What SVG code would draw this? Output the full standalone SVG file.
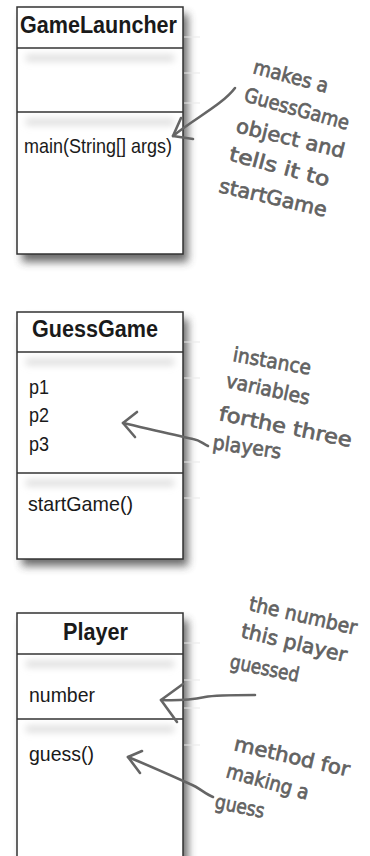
<svg xmlns="http://www.w3.org/2000/svg" width="370" height="856" viewBox="0 0 370 856">
<defs>
<style>
.box{fill:#fff;stroke:#333;stroke-width:1.5}
.div{stroke:#333;stroke-width:1.5}
.shadow{fill:#3a3a3a;opacity:.75;filter:url(#blur)}
.band{fill:#dadada;filter:url(#soft)}
.rule{stroke:#e9e9e9;stroke-width:1}
.title{font-family:"Liberation Sans",Arial,sans-serif;font-weight:bold;font-size:23px;fill:#1a1a1a}
.item{font-family:"Liberation Sans",Arial,sans-serif;font-size:21px;fill:#1a1a1a}
.hand{font-family:"DejaVu Sans","Noto Sans",sans-serif;font-size:20px;fill:#626262;stroke:#626262;stroke-width:0.7}
.arrow{fill:none;stroke:#656565;stroke-width:2.6;stroke-linecap:round;stroke-linejoin:round}
</style>
<filter id="blur" x="-20%" y="-20%" width="140%" height="140%"><feGaussianBlur stdDeviation="4"/></filter>
<filter id="soft" x="-20%" y="-300%" width="140%" height="700%"><feGaussianBlur stdDeviation="3.5"/></filter>
</defs>
<rect width="370" height="856" fill="#fff"/>

<g id="GameLauncher">
<rect class="shadow" x="22" y="14" width="166" height="248"/>
<line class="rule" x1="184" y1="37" x2="200" y2="37"/>
<line class="rule" x1="184" y1="73" x2="200" y2="73"/>
<line class="rule" x1="184" y1="103" x2="200" y2="103"/>
<rect class="box" x="17" y="7" width="166" height="247"/>
<rect class="band" x="26" y="55" width="148" height="6"/>
<rect class="band" x="26" y="119" width="148" height="6"/>
<line class="div" x1="17" y1="48" x2="183" y2="48"/>
<line class="div" x1="17" y1="112" x2="183" y2="112"/>
<text class="title" x="20" y="33" textLength="157" lengthAdjust="spacingAndGlyphs">GameLauncher</text>
<text class="item" x="24" y="153" textLength="148" lengthAdjust="spacingAndGlyphs">main(String[] args)</text>
</g>

<g id="GuessGame">
<rect class="shadow" x="22" y="319" width="166" height="247"/>
<line class="rule" x1="184" y1="342" x2="200" y2="342"/>
<line class="rule" x1="184" y1="378" x2="200" y2="378"/>
<line class="rule" x1="184" y1="462" x2="200" y2="462"/>
<line class="rule" x1="184" y1="498" x2="200" y2="498"/>
<rect class="box" x="17" y="312" width="166" height="247"/>
<rect class="band" x="26" y="359" width="148" height="6"/>
<rect class="band" x="26" y="480" width="148" height="6"/>
<line class="div" x1="17" y1="352" x2="183" y2="352"/>
<line class="div" x1="17" y1="473" x2="183" y2="473"/>
<text class="title" x="32" y="337" textLength="126" lengthAdjust="spacingAndGlyphs">GuessGame</text>
<text class="item" x="29" y="394" textLength="20" lengthAdjust="spacingAndGlyphs">p1</text>
<text class="item" x="29" y="422" textLength="20" lengthAdjust="spacingAndGlyphs">p2</text>
<text class="item" x="29" y="451" textLength="20" lengthAdjust="spacingAndGlyphs">p3</text>
<text class="item" x="28" y="511" textLength="105" lengthAdjust="spacingAndGlyphs">startGame()</text>
</g>

<g id="Player">
<rect class="shadow" x="22" y="620" width="166" height="260"/>
<line class="rule" x1="184" y1="643" x2="200" y2="643"/>
<line class="rule" x1="184" y1="680" x2="200" y2="680"/>
<line class="rule" x1="184" y1="708" x2="200" y2="708"/>
<line class="rule" x1="184" y1="745" x2="200" y2="745"/>
<rect class="box" x="17" y="613" width="166" height="260"/>
<rect class="band" x="26" y="661" width="148" height="6"/>
<rect class="band" x="26" y="726" width="148" height="6"/>
<line class="div" x1="17" y1="654" x2="183" y2="654"/>
<line class="div" x1="17" y1="719" x2="183" y2="719"/>
<text class="title" x="63" y="640" textLength="65" lengthAdjust="spacingAndGlyphs">Player</text>
<text class="item" x="29" y="702" textLength="66" lengthAdjust="spacingAndGlyphs">number</text>
<text class="item" x="29" y="761" textLength="65" lengthAdjust="spacingAndGlyphs">guess()</text>
</g>

<g id="note-launcher">
<text class="hand" transform="translate(252,73) rotate(15)" textLength="77" lengthAdjust="spacingAndGlyphs">makes a</text>
<text class="hand" transform="translate(243,101) rotate(15.5)" textLength="108" lengthAdjust="spacingAndGlyphs">GuessGame</text>
<text class="hand" transform="translate(235,132) rotate(13.5)" textLength="111" lengthAdjust="spacingAndGlyphs">object and</text>
<text class="hand" transform="translate(228,160) rotate(15)" textLength="103" lengthAdjust="spacingAndGlyphs">tells it to</text>
<text class="hand" transform="translate(218,192) rotate(13)" textLength="110" lengthAdjust="spacingAndGlyphs">startGame</text>
</g>

<g id="note-guessgame">
<text class="hand" transform="translate(232,361) rotate(10)" textLength="79" lengthAdjust="spacingAndGlyphs">instance</text>
<text class="hand" transform="translate(225,387) rotate(12)" textLength="85" lengthAdjust="spacingAndGlyphs">variables</text>
<text class="hand" transform="translate(218,420) rotate(11.5)" textLength="135" lengthAdjust="spacingAndGlyphs">forthe three</text>
<text class="hand" transform="translate(212,449) rotate(8)" textLength="69" lengthAdjust="spacingAndGlyphs">players</text>
</g>

<g id="note-number">
<text class="hand" transform="translate(248,610) rotate(13)" textLength="110" lengthAdjust="spacingAndGlyphs">the number</text>
<text class="hand" transform="translate(240,637) rotate(13.4)" textLength="108" lengthAdjust="spacingAndGlyphs">this player</text>
<text class="hand" transform="translate(229,668) rotate(11.5)" textLength="70" lengthAdjust="spacingAndGlyphs">guessed</text>
</g>

<g id="note-guess">
<text class="hand" transform="translate(233,750) rotate(13)" textLength="118" lengthAdjust="spacingAndGlyphs">method for</text>
<text class="hand" transform="translate(225,777) rotate(15.5)" textLength="85" lengthAdjust="spacingAndGlyphs">making a</text>
<text class="hand" transform="translate(214,808) rotate(11.5)" textLength="50" lengthAdjust="spacingAndGlyphs">guess</text>
</g>

<g id="connectors">
<path class="arrow" d="M235,88 C222,105 195,118 173,136"/>
<path class="arrow" d="M181,118 L173,136 L193,139"/>
<path class="arrow" d="M208,446 C203,444 200,440 193,439 C170,434 145,428 123,423"/>
<path class="arrow" d="M137,412 L123,423 L135,437"/>
<path class="arrow" d="M255,695 C230,695 215,695 205,697 C190,700 180,701 161,700"/>
<path class="arrow" d="M183,684 L161,700 L177,722"/>
<path class="arrow" d="M213,797 C205,794 200,788 190,784 C170,775 150,766 128,757"/>
<path class="arrow" d="M142,751 L128,757 L140,773"/>
</g>
</svg>
